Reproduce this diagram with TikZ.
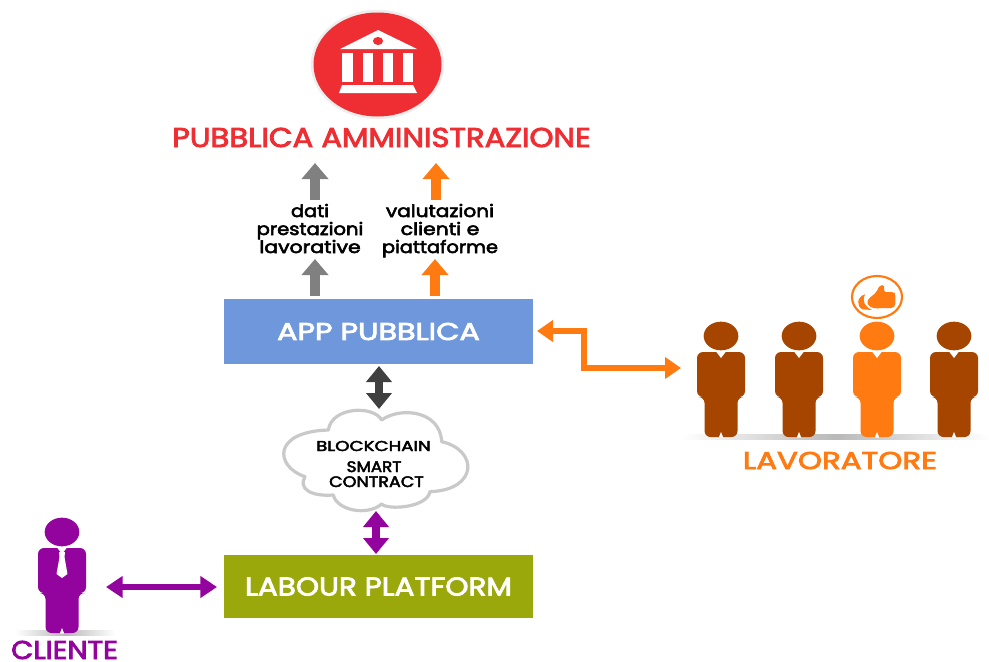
\documentclass[tikz,border=0pt]{standalone}
\usepackage{graphicx}
\usepackage{fontspec}
\setmainfont{Poppins}[FakeBold=3]
\usetikzlibrary{arrows.meta}
\definecolor{pared}{HTML}{EE2E32}
\definecolor{paorange}{HTML}{FF7A10}
\definecolor{pabrown}{HTML}{A54500}
\definecolor{papurple}{HTML}{93039E}
\definecolor{paapp}{HTML}{6F97DC}
\definecolor{paolive}{HTML}{9BA80B}
\definecolor{pagray}{HTML}{808080}
\definecolor{padark}{HTML}{404040}
\definecolor{pacloud}{HTML}{C9C9C9}
\tikzset{
  uparrow/.style={-{Triangle[width=19.5pt,length=12pt]},line width=7.2pt},
  twoway/.style={{Triangle[width=18.75pt,length=12pt]}-{Triangle[width=18.75pt,length=12pt]},line width=5.8pt},
  flatway/.style={{Triangle[width=15.75pt,length=12.5pt]}-{Triangle[width=15.75pt,length=12.5pt]},line width=5.2pt},
  stepway/.style={{Triangle[width=15.75pt,length=12pt]}-{Triangle[width=15.75pt,length=12pt]},line width=5.2pt,draw=paorange,line join=miter},
  box/.style={fill=#1,minimum width=231.75pt,inner sep=0pt,text=white},
  lbl/.style={inner sep=0pt,text=black,anchor=base},
  title/.style={inner sep=0pt,text=#1,anchor=base},
}
% width, font size, text: the height follows the font size, the width is fitted
\newcommand{\fitw}[3]{{\fontsize{#2}{#2}\selectfont\resizebox{#1}{\height}{#3}}}
\newcommand{\personfig}[3]{%
  \begin{scope}[shift={(#1,#2)}]
    \fill[#3] (0,0) ellipse [x radius=13pt,y radius=10.75pt];
    \fill[#3,rounded corners=4.5pt] (-24,16) -- (24,16) -- (24,61) -- (16.5,61) -- (16.5,101) -- (-16.5,101) -- (-16.5,61) -- (-24,61) -- cycle;
    \fill[white] (-5,15.5) -- (5,15.5) -- (0,22) -- cycle;
    \fill[white] (-2.2,101.5) -- (2.2,101.5) -- (0,96) -- cycle;
  \end{scope}}
\begin{document}
\begin{tikzpicture}[x=0.75pt,y=-0.75pt]
\useasboundingbox (0,0) rectangle (989,661);
\fill[white] (0,0) rectangle (989,661);
% emblem
\fill[gray!13] (377.5,64.5) ellipse [x radius=50pt,y radius=41pt];
\fill[pared] (377.5,64.5) ellipse [x radius=48pt,y radius=39pt];
\fill[white] (378,30) -- (417,49) -- (340,49) -- cycle;
\fill[pared] (378,41) ellipse [x radius=3.8pt,y radius=3pt];
\fill[white] (342,53) rectangle (353,82);
\fill[white] (363,53) rectangle (373,82);
\fill[white] (383,53) rectangle (393,82);
\fill[white] (403,53) rectangle (413,82);
\fill[white] (342,85) -- (413,85) -- (417,93) -- (339,93) -- cycle;
\node[title=pared] (pa) at (381.5,147) {\fitw{314pt}{20.4pt}{PUBBLICA AMMINISTRAZIONE}};
% labels between arrows
\node[lbl] (d1) at (310,217) {\fitw{28.5pt}{12.9pt}{dati}};
\node[lbl] (d2) at (310,235) {\fitw{80pt}{12.9pt}{prestazioni}};
\node[lbl] (d3) at (310,253) {\fitw{76pt}{12.9pt}{lavorative}};
\node[lbl] (v1) at (440,217) {\fitw{81pt}{12.9pt}{valutazioni}};
\node[lbl] (v2) at (440,235) {\fitw{59pt}{12.9pt}{clienti e}};
\node[lbl] (v3) at (440,253) {\fitw{87pt}{12.9pt}{piattaforme}};
% boxes
\node[box=paapp,minimum height=48.75pt] (app) at (378.5,331.5) {\fitw{152pt}{18.2pt}{APP PUBBLICA}};
\node[box=paolive,minimum height=47.5pt] (lab) at (378.5,586.5) {\fitw{200pt}{19.3pt}{LABOUR PLATFORM}};
% arrows to the administration
\coordinate (ga) at (315,296); \coordinate (gb) at (315,259);
\coordinate (gc) at (315,200); \coordinate (gd) at (315,163);
\coordinate (oa) at (435,296); \coordinate (ob) at (435,259);
\coordinate (oc) at (436,200); \coordinate (od) at (436,163);
\draw[uparrow,draw=pagray] (ga) -- (gb);
\draw[uparrow,draw=pagray] (gc) -- (gd);
\draw[uparrow,draw=paorange] (oa) -- (ob);
\draw[uparrow,draw=paorange] (oc) -- (od);
% cloud
\begin{scope}[shift={(270,360)},x=0.25pt,y=-0.25pt]
\draw[draw=pacloud,fill=white,line width=2.4pt,line join=round]
 (105,350) .. controls (15,320) and (5,215) .. (175,210)
 .. controls (185,140) and (310,135) .. (335,180)
 .. controls (390,140) and (510,150) .. (515,245)
 .. controls (625,270) and (625,390) .. (480,395)
 .. controls (470,445) and (350,450) .. (335,432)
 .. controls (290,470) and (200,450) .. (190,405)
 .. controls (120,410) and (85,385) .. (105,350) -- cycle;
\end{scope}
\node[lbl] (bc) at (373.5,451) {\fitw{86pt}{10.7pt}{BLOCKCHAIN}};
\node[lbl] (sm) at (374,472) {\fitw{41pt}{11.4pt}{SMART}};
\node[lbl] (co) at (376.5,487) {\fitw{71pt}{11.4pt}{CONTRACT}};
\coordinate (cloudtop) at (379,409); \coordinate (cloudbot) at (376,511);
\coordinate (apptop) at (379,366); \coordinate (labtop) at (376,554);
\draw[twoway,draw=padark] (apptop) -- (cloudtop);
\draw[twoway,draw=papurple] (cloudbot) -- (labtop);
% workers
\shade[left color=white,right color=white,middle color=gray!55] (682,434.5) rectangle (989,439.5);
\personfig{721}{336}{pabrown}
\personfig{799}{336}{pabrown}
\personfig{877}{336}{paorange}
\personfig{954}{336}{pabrown}
\node[title=paorange] (lav) at (840,469) {\fitw{145.5pt}{18.2pt}{LAVORATORE}};
\draw[paorange,line width=1.6pt] (877,297) ellipse [x radius=18.75pt,y radius=15.75pt];
\begin{scope}[shift={(670,270)},x=0.25pt,y=-0.25pt]
\fill[paorange,rounded corners=1.5pt] (597,85) -- (618,68) -- (630,45) -- (643,46) -- (642,66) -- (672,66) -- (676,72) -- (676,108) -- (668,114) -- (612,115) -- (596,108) -- (590,95) -- cycle;
\fill[paorange] (585,73) .. controls (560,80) and (558,110) .. (578,118) -- (606,120) .. controls (585,110) and (575,95) .. (585,73) -- cycle;
\end{scope}
\coordinate (wleft) at (681,368);
\coordinate (appright) at (537,331);
\draw[stepway] (appright) -- (584,331) -- (584,368) -- (wleft);
% client
\shade[left color=white,right color=white,middle color=gray!55] (15,630) rectangle (115,635);
\personfig{62}{532}{papurple}
\fill[white] (59,552) -- (65,552) -- (64.5,557) -- (67.5,574) -- (62,578) -- (56.5,574) -- (59.5,557) -- cycle;
\node[title=papurple] (cli) at (64.5,659) {\fitw{80pt}{19.3pt}{CLIENTE}};
\coordinate (cright) at (106,587);
\coordinate (lableft) at (217,587);
\draw[flatway,draw=papurple] (cright) -- (lableft);
\end{tikzpicture}
\end{document}
